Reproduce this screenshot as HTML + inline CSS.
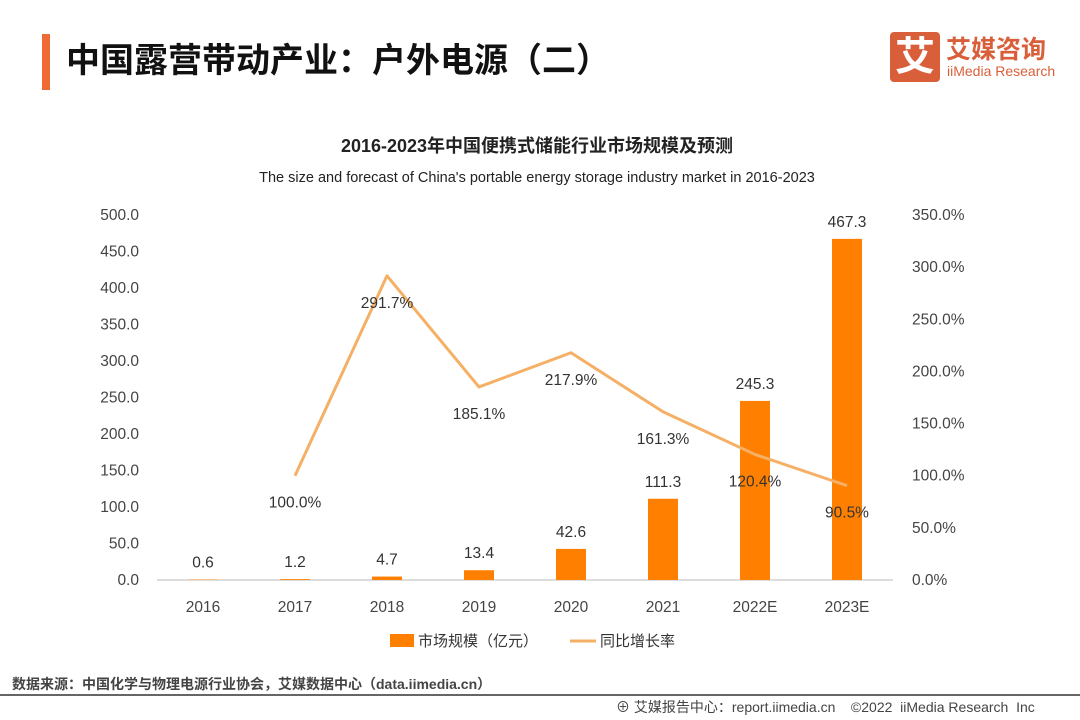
<!DOCTYPE html>
<html><head><meta charset="utf-8">
<style>
body{margin:0;width:1080px;height:720px;background:#fff;overflow:hidden;font-family:"Liberation Sans","Noto Sans CJK SC",sans-serif;position:relative}
.abs{position:absolute}
</style></head><body>
<div class="abs" style="left:42px;top:34px;width:8px;height:56px;background:#f06a35"></div>
<div class="abs" style="left:66px;top:33px;font-size:34px;font-weight:bold;color:#111;font-family:'Liberation Sans','Noto Sans CJK SC',sans-serif">中国露营带动产业：户外电源（二）</div>
<div class="abs" style="left:890px;top:32px;width:170px;height:52px">
 <div style="position:absolute;left:0;top:0;width:50px;height:50px;background:#d95f3b;border-radius:4px;color:#fff;font-size:40px;font-weight:bold;text-align:center;line-height:50px">艾</div>
 <div style="position:absolute;left:56px;top:-2px;font-size:25px;font-weight:bold;color:#d95f3b">艾媒咨询</div>
 <div style="position:absolute;left:57px;top:31px;font-size:14px;color:#d95f3b">iiMedia Research</div>
</div>
<svg class="abs" style="left:0;top:0" width="1080" height="720">
 <text x="537" y="152" text-anchor="middle" font-size="18" font-weight="bold" fill="#222">2016-2023年中国便携式储能行业市场规模及预测</text>
 <text x="537" y="182" text-anchor="middle" font-size="14.5" fill="#222">The size and forecast of China's portable energy storage industry market in 2016-2023</text>
 <g id="g"></g>
 <rect x="390" y="634" width="24" height="13" fill="#ff8000"/>
 <text x="418" y="646" font-size="15" fill="#333">市场规模（亿元）</text>
 <line x1="570" y1="641" x2="596" y2="641" stroke="#f5b066" stroke-width="3"/>
 <text x="600" y="646" font-size="15" fill="#333">同比增长率</text>
</svg>
<div class="abs" style="left:12px;top:674px;font-size:14px;color:#444;font-weight:bold">数据来源：中国化学与物理电源行业协会，艾媒数据中心（data.iimedia.cn）</div>
<div class="abs" style="left:0;top:694px;width:1080px;height:2px;background:#666"></div>
<div class="abs" style="left:616px;top:697px;font-size:14px;color:#444">⊕ 艾媒报告中心：report.iimedia.cn &nbsp;&nbsp; ©2022 &nbsp;iiMedia Research &nbsp;Inc</div>
<script>
const categories=["2016","2017","2018","2019","2020","2021","2022E","2023E"];
const marketSize=[0.6,1.2,4.7,13.4,42.6,111.3,245.3,467.3];
const growthRate=[null,100.0,291.7,185.1,217.9,161.3,120.4,90.5];
const leftTicks=[0,50,100,150,200,250,300,350,400,450,500];
const rightTicks=[0,50,100,150,200,250,300,350];
const NS="http://www.w3.org/2000/svg";
const g=document.getElementById('g');
const y0=580,yTop=215;
const yL=v=>y0-v/500*(y0-yTop);
const yR=v=>y0-v/350*(y0-yTop);
const xC=i=>203+i*92;
function mk(t,a,txt){const e=document.createElementNS(NS,t);for(const k in a)e.setAttribute(k,a[k]);if(txt!==undefined)e.textContent=txt;g.appendChild(e);return e;}
leftTicks.forEach(v=>{const e=mk('text',{x:139,y:yL(v)+5,'text-anchor':'end','font-size':15.5,fill:'#444'},v.toFixed(1));

});
rightTicks.forEach(v=>{const e=mk('text',{x:912,y:yR(v)+5,'font-size':15.5,fill:'#444'},v.toFixed(1)+'%');

});
const ax=mk('line',{x1:157,y1:y0,x2:893,y2:y0,stroke:'#bbb','stroke-width':1});


categories.forEach((c,i)=>{const e=mk('text',{x:xC(i),y:612,'text-anchor':'middle','font-size':15.5,fill:'#444'},c);

});
marketSize.forEach((v,i)=>{const y=yL(v);const b=mk('rect',{x:xC(i)-15,y:y,width:30,height:y0-y,fill:'#ff8000'});


const t=mk('text',{x:xC(i),y:y-12,'text-anchor':'middle','font-size':15.5,fill:'#333'},v.toFixed(1));

});
let d='';growthRate.forEach((v,i)=>{if(v===null)return;d+=(d?'L':'M')+xC(i)+','+yR(v);});
const ln=mk('path',{d:d,fill:'none',stroke:'#f5b066','stroke-width':3,'stroke-linejoin':'round'});


growthRate.forEach((v,i)=>{if(v===null)return;const t=mk('text',{x:xC(i),y:yR(v)+32,'text-anchor':'middle','font-size':15.5,fill:'#333'},v.toFixed(1)+'%');

});
</script>
</body></html>
